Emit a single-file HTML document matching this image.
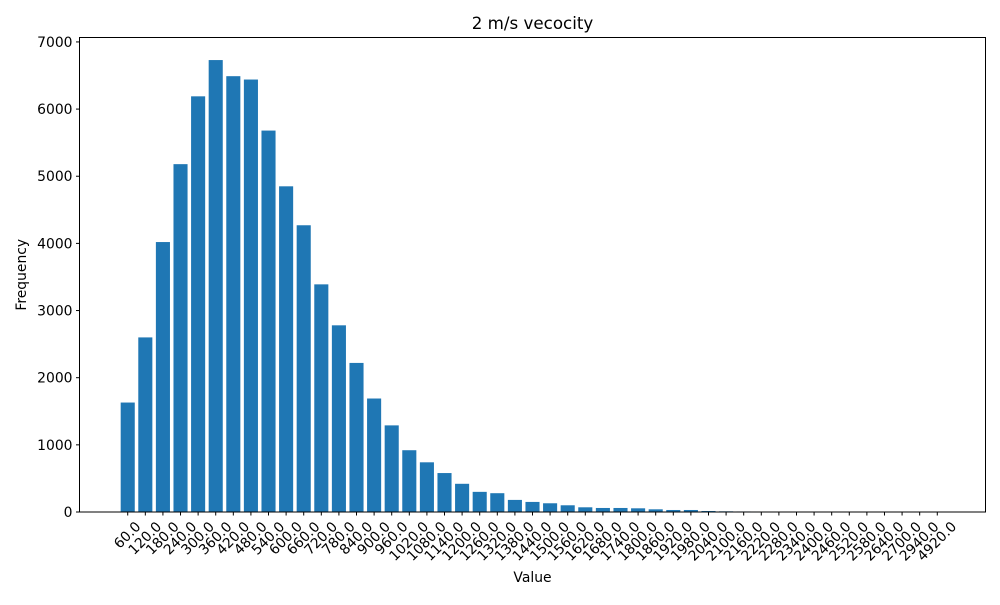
<!DOCTYPE html>
<html><head><meta charset="utf-8"><style>
body{margin:0;background:#fff}
svg text{font-family:"DejaVu Sans","Liberation Sans",sans-serif;fill:#000}
</style></head><body>
<svg id="chart" width="1000" height="600"></svg>
<script>
const categories=["60.0","120.0","180.0","240.0","300.0","360.0","420.0","480.0","540.0","600.0","660.0","720.0","780.0","840.0","900.0","960.0","1020.0","1080.0","1140.0","1200.0","1260.0","1320.0","1380.0","1440.0","1500.0","1560.0","1620.0","1680.0","1740.0","1800.0","1860.0","1920.0","1980.0","2040.0","2100.0","2160.0","2220.0","2280.0","2340.0","2400.0","2460.0","2520.0","2580.0","2640.0","2700.0","2940.0","4920.0"];
const frequencies=[1630,2600,4020,5180,6190,6730,6490,6440,5680,4850,4270,3390,2780,2220,1690,1290,920,740,580,420,300,280,180,150,130,100,70,60,60,55,40,30,30,15,10,8,7,6,6,5,5,4,4,3,3,2,2];
const yTicks=[0,1000,2000,3000,4000,5000,6000,7000];
const NS="http://www.w3.org/2000/svg";
const svg=document.getElementById('chart');
const L=79.5,R=985.5,T=37.5,B=512;
const yMax=7066;
const n=categories.length;
const xmin=-0.4-0.05*(n-1+0.8), xmax=n-1+0.4+0.05*(n-1+0.8);
function x(i){return L+(i-xmin)/(xmax-xmin)*(R-L);}
function y(v){return B-v/yMax*(B-T);}
const unit=(R-L)/(xmax-xmin);
function mk(tag,attrs,parent){const e=document.createElementNS(NS,tag);for(const k in attrs)e.setAttribute(k,attrs[k]);(parent||svg).appendChild(e);return e;}
const bars=mk('g',{});


frequencies.forEach((v,i)=>{
  const r=mk('rect',{x:x(i)-0.4*unit,y:y(v),width:0.8*unit,height:B-y(v),fill:'#1f77b4'},bars);
  
  
});
const frame=mk('rect',{x:L,y:T,width:R-L,height:B-T,fill:'none',stroke:'#000','stroke-width':1});


const yax=mk('g',{});


yTicks.forEach(t=>{
  const yy=y(t);
  mk('line',{x1:L-3.5,x2:L,y1:yy,y2:yy,stroke:'#000'},yax);
  const tx=mk('text',{x:L-7,y:yy+5,'text-anchor':'end','font-size':13.9},yax);
  tx.textContent=t;
  
  
});
const xax=mk('g',{});


categories.forEach((c,i)=>{
  const xx=x(i);
  mk('line',{x1:xx,x2:xx,y1:B,y2:B+3.5,stroke:'#000'},xax);
  const w=(c.length-1)*8.85+4.4, h=13;
  const half=(w+h)*0.7071/2;
  const cy=B+8+half;
  const tx=mk('text',{x:xx,y:cy,'text-anchor':'middle','dominant-baseline':'central','font-size':13.9,transform:`rotate(-45 ${xx} ${cy})`},xax);
  tx.textContent=c;
  
  
});
const title=mk('text',{x:(L+R)/2,y:29,'text-anchor':'middle','font-size':16.7});
title.textContent='2 m/s vecocity';


const xl=mk('text',{x:(L+R)/2,y:582,'text-anchor':'middle','font-size':13.9});
xl.textContent='Value';


const yl=mk('text',{x:26,y:(T+B)/2,'text-anchor':'middle','font-size':13.9,transform:`rotate(-90 26 ${(T+B)/2})`});
yl.textContent='Frequency';


</script>
</body></html>
